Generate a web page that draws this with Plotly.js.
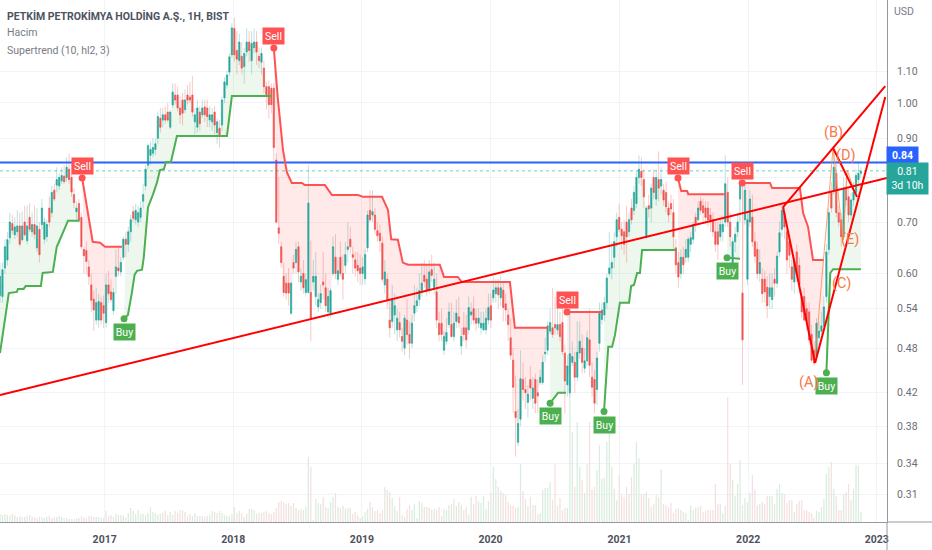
<!DOCTYPE html>
<html><head><meta charset="utf-8">
<script src="https://cdn.plot.ly/plotly-3.0.1.min.js"></script>
<style>html,body{margin:0;padding:0;background:#fff}#c{width:932px;height:550px}</style></head>
<body><div id="c"></div>
<script>
// weekly candles [open, high, low, close] (USD), one row per week
const bars2016=[[.562,.62,.55,.595],[.56,.62,.55,.607],[.61,.665,.60,.65],[.625,.68,.615,.664],[.668,.72,.655,.70],[.697,.715,.675,.683],[.674,.71,.665,.69],[.68,.725,.67,.692],[.692,.72,.65,.655],[.664,.722,.66,.692],[.70,.735,.67,.674],[.662,.735,.655,.692],[.71,.74,.68,.685],[.68,.72,.67,.695],[.695,.735,.665,.675],[.648,.73,.64,.692],[.685,.70,.62,.635],[.695,.75,.685,.73],[.665,.71,.655,.70],[.67,.705,.66,.695],[.73,.755,.69,.70],[.72,.78,.71,.765],[.77,.785,.745,.75],[.782,.825,.765,.795],[.78,.81,.77,.80],[.792,.825,.785,.805],[.803,.83,.785,.79],[.80,.85,.79,.825],[.82,.86,.785,.795],[.80,.835,.755,.766],[.76,.775,.73,.742],[.722,.745,.705,.73],[.74,.75,.70,.705],[.71,.72,.645,.65],[.645,.65,.60,.633],[.643,.66,.60,.622],[.612,.625,.58,.595],[.58,.60,.535,.554],[.556,.57,.505,.538],[.522,.575,.515,.55],[.522,.565,.51,.552],[.55,.56,.515,.522]];
const bars2017=[[.545,.562,.51,.533],[.518,.60,.51,.58],[.58,.605,.55,.565],[.568,.59,.55,.555],[.537,.575,.53,.567],[.595,.645,.565,.612],[.61,.65,.595,.605],[.603,.63,.595,.62],[.63,.67,.625,.665],[.665,.68,.63,.655],[.655,.69,.64,.68],[.68,.715,.66,.705],[.722,.735,.70,.708],[.705,.74,.695,.725],[.70,.735,.69,.72],[.71,.745,.70,.73],[.745,.785,.73,.76],[.78,.83,.77,.82],[.83,.885,.82,.88],[.855,.89,.83,.87],[.86,.90,.85,.875],[.87,.90,.855,.885],[.90,.975,.885,.96],[.955,.985,.915,.93],[.95,.985,.93,.965],[.965,.99,.94,.95],[.973,1.0,.945,.95],[.93,.98,.925,.973],[.994,1.06,.985,1.033],[1.024,1.06,.995,1.009],[1.024,1.05,.975,.985],[.985,1.02,.94,.965],[1.009,1.03,.935,.97],[.98,1.04,.97,1.009],[1.024,1.055,.995,1.009],[1.018,1.065,1.0,1.009],[1.024,1.085,.96,.973],[.945,.985,.91,.965],[.93,1.01,.915,.985],[.973,.99,.92,.94],[.965,1.01,.955,.985],[.988,1.01,.945,.965],[.985,1.01,.93,.96],[.95,.99,.93,.965],[.945,.985,.92,.965],[.973,.99,.91,.936],[.915,.955,.885,.945],[.927,.95,.875,.909],[.936,1.02,.92,1.009],[1.015,1.08,1.0,1.065],[1.055,1.10,1.045,1.087],[1.097,1.16,1.085,1.148],[1.155,1.27,1.145,1.252]];
const bars2018=[[1.25,1.29,1.13,1.155],[1.17,1.24,1.09,1.14],[1.135,1.23,1.12,1.20],[1.15,1.20,1.09,1.11],[1.115,1.18,1.06,1.16],[1.165,1.25,1.15,1.20],[1.20,1.24,1.13,1.17],[1.135,1.24,1.09,1.195],[1.18,1.25,1.16,1.20],[1.20,1.24,1.12,1.165],[1.15,1.18,1.11,1.135],[1.13,1.18,1.09,1.16],[1.11,1.135,1.03,1.05],[1.05,1.065,.98,1.025],[1.05,1.07,.955,.995],[1.045,1.06,.97,.995],[1.045,1.06,.84,.875],[.843,.86,.695,.70],[.688,.80,.655,.677],[.65,.66,.61,.62],[.595,.62,.56,.567],[.583,.60,.555,.566],[.583,.61,.545,.566],[.533,.585,.53,.583],[.62,.635,.60,.61],[.62,.66,.60,.645],[.65,.66,.585,.603],[.585,.61,.57,.595],[.60,.625,.565,.575],[.567,.60,.56,.589],[.567,.83,.565,.741],[.567,.662,.49,.525],[.585,.625,.57,.595],[.56,.64,.545,.595],[.543,.565,.535,.555],[.55,.58,.54,.565],[.585,.64,.555,.58],[.575,.60,.535,.545],[.535,.575,.525,.56],[.533,.575,.525,.57],[.60,.67,.595,.65],[.63,.675,.59,.60],[.59,.63,.58,.605],[.63,.66,.595,.60],[.60,.635,.555,.59],[.615,.66,.60,.635],[.645,.70,.62,.65],[.665,.69,.635,.65],[.635,.65,.60,.63],[.625,.64,.595,.61],[.615,.64,.585,.605],[.61,.635,.58,.60],[.60,.63,.58,.612]];
const bars2019=[[.591,.645,.58,.635],[.648,.725,.64,.715],[.725,.77,.70,.705],[.715,.77,.70,.722],[.715,.73,.675,.685],[.682,.70,.66,.672],[.677,.695,.64,.662],[.657,.67,.585,.59],[.58,.625,.565,.603],[.59,.60,.54,.555],[.522,.555,.495,.51],[.52,.58,.51,.555],[.53,.565,.50,.545],[.507,.54,.49,.525],[.518,.535,.495,.507],[.497,.51,.475,.49],[.48,.53,.47,.525],[.522,.555,.485,.50],[.50,.52,.465,.487],[.487,.53,.48,.517],[.533,.58,.52,.545],[.545,.575,.535,.553],[.555,.60,.545,.57],[.57,.62,.56,.583],[.597,.625,.575,.586],[.59,.615,.56,.571],[.571,.625,.565,.603],[.607,.635,.585,.597],[.575,.62,.565,.59],[.568,.60,.51,.522],[.517,.535,.49,.50],[.517,.54,.49,.50],[.477,.505,.47,.497],[.49,.525,.485,.503],[.515,.55,.51,.535],[.515,.55,.495,.497],[.497,.535,.49,.517],[.52,.555,.51,.533],[.527,.56,.51,.518],[.483,.51,.47,.497],[.51,.535,.49,.50],[.51,.53,.48,.492],[.507,.56,.50,.542],[.53,.55,.515,.535],[.54,.56,.515,.522],[.525,.54,.505,.517],[.517,.54,.51,.525],[.51,.535,.50,.517],[.507,.535,.505,.517],[.507,.54,.50,.525],[.522,.565,.515,.542],[.545,.565,.51,.522]];
const bars2020=[[.558,.595,.55,.571],[.565,.59,.55,.575],[.575,.59,.54,.563],[.558,.595,.545,.575],[.571,.585,.52,.542],[.548,.565,.52,.538],[.53,.54,.49,.515],[.495,.525,.463,.47],[.463,.48,.395,.427],[.397,.442,.347,.39],[.362,.40,.358,.383],[.388,.477,.38,.438],[.437,.46,.41,.424],[.424,.44,.40,.42],[.408,.43,.39,.418],[.437,.455,.41,.426],[.413,.44,.40,.426],[.437,.445,.395,.407],[.42,.437,.395,.416],[.433,.45,.43,.44],[.433,.47,.43,.46],[.472,.495,.46,.474],[.477,.52,.47,.513],[.505,.54,.50,.518],[.51,.575,.495,.50],[.515,.56,.50,.51],[.507,.55,.50,.515],[.515,.535,.49,.497],[.518,.55,.47,.475],[.473,.485,.395,.435],[.43,.47,.415,.455],[.42,.545,.415,.472],[.46,.49,.455,.468],[.46,.475,.42,.44],[.44,.52,.435,.474],[.473,.52,.465,.49],[.48,.50,.445,.46],[.452,.48,.445,.462],[.462,.505,.455,.495],[.492,.54,.44,.456],[.44,.46,.415,.427],[.437,.45,.395,.407],[.424,.475,.405,.466],[.487,.55,.475,.533],[.523,.55,.515,.538],[.53,.56,.52,.55],[.55,.60,.54,.592],[.60,.68,.595,.61],[.61,.66,.59,.62],[.63,.68,.61,.66],[.67,.72,.65,.705]];
const bars2021=[[.71,.74,.68,.685],[.685,.70,.645,.672],[.68,.705,.635,.655],[.70,.735,.62,.67],[.68,.72,.67,.705],[.73,.75,.695,.705],[.725,.78,.715,.765],[.74,.815,.73,.80],[.80,.855,.785,.82],[.815,.85,.78,.80],[.795,.82,.73,.755],[.67,.735,.665,.73],[.735,.76,.71,.728],[.73,.785,.70,.775],[.80,.82,.75,.765],[.75,.82,.735,.80],[.795,.865,.745,.775],[.78,.825,.76,.795],[.77,.785,.735,.748],[.765,.79,.72,.733],[.73,.745,.70,.715],[.74,.76,.715,.728],[.72,.75,.645,.67],[.648,.665,.60,.616],[.62,.64,.575,.594],[.60,.645,.59,.63],[.63,.65,.60,.616],[.63,.665,.62,.645],[.63,.67,.62,.665],[.655,.68,.64,.668],[.665,.70,.655,.695],[.71,.72,.68,.695],[.705,.745,.695,.73],[.745,.755,.715,.725],[.735,.75,.70,.72],[.73,.745,.695,.71],[.73,.745,.69,.705],[.715,.73,.68,.70],[.705,.72,.67,.68],[.68,.70,.64,.655],[.68,.70,.625,.655],[.67,.71,.66,.695],[.68,.71,.66,.695],[.70,.855,.69,.785],[.765,.80,.69,.70],[.70,.72,.65,.67],[.61,.67,.60,.66],[.66,.69,.64,.675],[.68,.72,.67,.70],[.75,.83,.70,.79],[.566,.78,.43,.492],[.705,.80,.695,.77],[.59,.72,.58,.705]];
const bars2022=[[.70,.77,.69,.75],[.71,.76,.65,.66],[.66,.68,.62,.632],[.645,.66,.59,.60],[.60,.645,.585,.62],[.59,.61,.55,.565],[.59,.605,.55,.568],[.576,.595,.525,.545],[.56,.60,.54,.575],[.555,.60,.54,.575],[.59,.61,.56,.583],[.583,.64,.575,.632],[.64,.70,.63,.678],[.685,.74,.67,.725],[.72,.74,.665,.69],[.68,.69,.60,.625],[.66,.67,.61,.634],[.612,.625,.57,.59],[.585,.63,.565,.622],[.64,.655,.585,.60],[.615,.63,.565,.58],[.56,.57,.525,.535],[.56,.575,.52,.522],[.54,.55,.505,.52],[.535,.55,.485,.492],[.50,.515,.46,.463],[.477,.49,.455,.459],[.47,.525,.465,.517],[.495,.52,.485,.505],[.505,.535,.50,.513],[.513,.56,.505,.543],[.56,.655,.55,.64],[.645,.73,.635,.72],[.765,.79,.72,.73],[.77,.87,.76,.825],[.81,.845,.71,.72],[.72,.735,.69,.70],[.705,.72,.65,.67],[.67,.80,.665,.775],[.775,.80,.735,.748],[.755,.775,.70,.715],[.715,.765,.705,.748],[.748,.79,.735,.765],[.765,.82,.755,.805],[.795,.84,.785,.81],[.81,.825,.80,.815]];
// weekly volume (millions)
const vol2016=[8,7,8,7,6,8,7,5,6,5,5,6,7,5,5,4,5,5,4,5,6,4,5,5,6,5,4,4,3,3,3,4,4,6,5,4,6,6,5,5,5,4];
const vol2017=[4,11,6,7,5,8,7,7,6,4,9,14,11,8,12,8,8,7,9,15,10,9,7,8,9,11,7,10,7,11,9,12,12,10,6,8,6,9,6,6,6,5,6,7,11,10,9,11,9,7,6,6,8];
const vol2018=[15,9,11,9,5,8,13,13,12,8,9,9,10,11,9,8,10,14,20,21,20,18,19,16,19,14,12,13,12,15,65,55,2,23,19,18,25,15,14,20,25,29,15,14,16,13,14,14,8,10,7,4,6];
const vol2019=[10,13,20,15,11,12,9,12,35,32,30,24,16,11,25,7,5,13,17,12,18,4,21,19,15,15,14,12,13,12,15,6,13,12,17,18,23,16,20,17,12,15,7,25,18,26,21,19,26,13,21,30];
const vol2020=[55,43,35,31,29,27,20,17,16,14,15,58,31,23,16,25,17,17,8,9,32,34,34,40,22,58,16,24,12,14,14,130,90,35,100,55,42,29,58,100,33,35,52,77,43,44,80,100,55,33,22];
const vol2021=[47,27,25,35,28,45,58,80,64,28,28,30,24,15,18,27,25,53,18,17,15,19,9,13,14,12,10,9,2,17,12,14,15,16,10,11,12,12,12,38,18,18,9,16,125,58,42,26,38,62,17,24,20];
const vol2022=[29,47,33,17,18,20,18,26,26,26,18,33,38,29,28,19,22,22,10,18,21,22,12,12,10,9,4,11,10,15,23,48,55,60,33,26,12,12,28,30,38,22,33,57,56,10];
// Supertrend (10, hl2, 3): week number and level of each leg
const upWeeks=[[0,1.2,3.6,6.9,7.3,9.7,10.5,16.6,17.4,21.5,22.3,23.1,24.3,25.5,27.6,32.4],[50.3,51.9,53.5,54.7,55.6,57.6,58.4,60,62,63.7,64.9,66.5,67.3,69.3,71.8,92,94,110.3],[223,226.3,229.5],[244.9,246.6,248.2,249.4,251.4,255.1,255.9,257.1,258.3,259.5,260.3,274.5],[294.8,300.1],[335,336.6,337.8,349.1]];
const upLevels=[[.473,.499,.566,.568,.573,.573,.578,.578,.601,.603,.625,.65,.664,.678,.703,.703],[.524,.53,.566,.598,.605,.607,.63,.732,.76,.787,.818,.82,.838,.838,.906,.906,1.021,1.021],[.407,.42,.42],[.397,.482,.482,.499,.55,.55,.578,.58,.601,.601,.644,.644],[.629,.627],[.446,.601,.608,.608]];
const downWeeks=[[33.3,35.7,37.7,40.6,42.6,49.5],[111.1,112.7,114.8,116.4,118.4,122.5,123.7,131.8,134.6,145.2,147.2,154.9,157.3,158.6,161.4,163.4,165.5,178.4,180,185.7,187.3,206.8,208.8,222.2],[229.9,244.5],[274.9,276.2,278.6,279,294.4],[300.9,312.2,313,324.4,325.6,327.7,329.7,334.1]];
const downLevels=[[.799,.72,.66,.658,.65,.65],[1.179,1.018,.869,.813,.787,.787,.782,.782,.759,.759,.755,.755,.726,.665,.664,.62,.616,.616,.594,.594,.585,.585,.51,.51],[.535,.535],[.799,.768,.768,.761,.761],[.787,.787,.775,.775,.719,.69,.625,.625]];
// signals
const sellWeeks=[33.3,111.1,229.9,274.9,300.9];
const sellLevels=[.799,1.179,.535,.799,.787];
const buyWeeks=[50.3,223,244.9,294.8,335];
const buyLevels=[.524,.407,.397,.629,.446];
// hand-drawn lines
const drawnLines=[
 {w:[0,359.7],p:[.417,.799]},
 {w:[317.5,358.9],p:[.732,1.052]},
 {w:[330.5,358.9],p:[.459,1.018]},
 {w:[317.5,330.5],p:[.732,.459]},
 {w:[337.8,347.5],p:[.874,.755]}
];
const waveWeeks=[330.5,337.8,341.9,343.5,347.1];
const waveLevels=[.467,.874,.664,.818,.759];
const waveLabels=['(A)','(B)','(C)','(D)','(E)'];
const waveLabelWeeks=[327.6,337.8,341,343,344.5];
const waveLabelLevels=[.433,.915,.583,.854,.665];
const resistance=.837, lastClose=.816, axisEndWeek=359.7;
const yTicks=[1.10,1.00,.90,.80,.70,.60,.54,.48,.42,.38,.34,.31];
const yTickLabels=['1.10','1.00','0.90','','0.70','0.60','0.54','0.48','0.42','0.38','0.34','0.31'];
const yearTicks=['2017','2018','2019','2020','2021','2022','2023'];
const yMin=.2852,yMax=1.361;

const GREEN='#4caf50',RED='#ff5252',UP='#26a69a',DOWN='#ef5350';
const FONT='Roboto, "Noto Sans", sans-serif';
const t0=Date.UTC(2016,2,10);
const wk=w=>new Date(t0+w*7*864e5).toISOString().slice(0,10);
const bars=[...bars2016,...bars2017,...bars2018,...bars2019,...bars2020,...bars2021,...bars2022];
const vols=[...vol2016,...vol2017,...vol2018,...vol2019,...vol2020,...vol2021,...vol2022];
const dates=bars.map((b,i)=>wk(i));
const o=bars.map(b=>b[0]),h=bars.map(b=>b[1]),l=bars.map(b=>b[2]),c=bars.map(b=>b[3]);
const bodyHi=bars.map(b=>Math.max(b[0],b[3])),bodyLo=bars.map(b=>Math.min(b[0],b[3]));
const traces=[];

// fills of the Supertrend zone, on the base price axis
function zone(ws,ls,color){
  const idx=[];bars.forEach((b,i)=>{if(i>=ws[0]&&i<=ws[ws.length-1])idx.push(i)});
  traces.push({type:'scatter',mode:'lines',x:idx.map(i=>dates[i]),y:idx.map(i=>(o[i]+c[i])/2),line:{width:0},hoverinfo:'skip',xaxis:'x',yaxis:'y'});
  traces.push({type:'scatter',mode:'lines',x:ws.map(wk),y:ls,line:{width:0},fill:'tonexty',fillcolor:color,hoverinfo:'skip',xaxis:'x',yaxis:'y'});
}
upWeeks.forEach((w,i)=>zone(w,upLevels[i],'rgba(76,175,80,0.10)'));
downWeeks.forEach((w,i)=>zone(w,downLevels[i],'rgba(255,82,82,0.13)'));

// volume
traces.push({type:'bar',x:dates,y:vols,xaxis:'x',yaxis:'y2',hoverinfo:'skip',
  marker:{color:bars.map(b=>b[3]>=b[0]?'#d9ecdd':'#f5dfdf',),line:{width:0}}});

// wicks (pale) then bodies
traces.push({type:'candlestick',x:dates,open:o,high:h,low:l,close:c,xaxis:'x',yaxis:'y3',hoverinfo:'skip',
  increasing:{line:{color:'rgba(38,166,154,0.4)',width:0.8},fillcolor:'rgba(0,0,0,0)'},
  decreasing:{line:{color:'rgba(239,83,80,0.4)',width:0.8},fillcolor:'rgba(0,0,0,0)'}});
traces.push({type:'candlestick',x:dates,open:o,high:bodyHi,low:bodyLo,close:c,xaxis:'x',yaxis:'y3',hoverinfo:'skip',
  increasing:{line:{color:UP,width:0.5},fillcolor:UP},
  decreasing:{line:{color:DOWN,width:0.5},fillcolor:DOWN}});

// horizontal levels
traces.push({type:'scatter',mode:'lines',x:[wk(0),wk(axisEndWeek)],y:[lastClose,lastClose],line:{color:'rgba(38,166,154,0.6)',width:1,dash:'dot'},xaxis:'x',yaxis:'y3',hoverinfo:'skip'});
traces.push({type:'scatter',mode:'lines',x:[wk(0),wk(axisEndWeek)],y:[resistance,resistance],line:{color:'#2962ff',width:2},xaxis:'x',yaxis:'y3',hoverinfo:'skip'});

// supertrend lines
upWeeks.forEach((w,i)=>traces.push({type:'scatter',mode:'lines',x:w.map(wk),y:upLevels[i],line:{color:GREEN,width:2},xaxis:'x',yaxis:'y3',hoverinfo:'skip'}));
downWeeks.forEach((w,i)=>traces.push({type:'scatter',mode:'lines',x:w.map(wk),y:downLevels[i],line:{color:RED,width:2},xaxis:'x',yaxis:'y3',hoverinfo:'skip'}));

// wave + drawings
traces.push({type:'scatter',mode:'lines',x:waveWeeks.map(wk),y:waveLevels,line:{color:'rgba(255,138,80,0.8)',width:1},xaxis:'x',yaxis:'y3',hoverinfo:'skip'});
drawnLines.forEach(d=>traces.push({type:'scatter',mode:'lines',x:d.w.map(wk),y:d.p,line:{color:'#f00',width:2},xaxis:'x',yaxis:'y3',hoverinfo:'skip'}));

// signal dots
traces.push({type:'scatter',mode:'markers',x:sellWeeks.map(wk),y:sellLevels,marker:{color:RED,size:7},xaxis:'x',yaxis:'y3',hoverinfo:'skip'});
traces.push({type:'scatter',mode:'markers',x:buyWeeks.map(wk),y:buyLevels,marker:{color:GREEN,size:7},xaxis:'x',yaxis:'y3',hoverinfo:'skip'});

const ann=[];
const sig=(txt,w,p,col,shift)=>ann.push({text:txt,x:wk(w),y:Math.log10(p),xref:'x',yref:'y',xanchor:'center',yanchor:'middle',yshift:shift,showarrow:false,bgcolor:col,width:21,height:16,borderpad:0,font:{family:FONT,size:10.5,color:'#fff'}});
sellWeeks.forEach((w,i)=>sig('Sell',w,sellLevels[i],RED,12));
buyWeeks.forEach((w,i)=>sig('Buy',w,buyLevels[i],GREEN,-13));
waveLabels.forEach((t,i)=>ann.push({text:t,x:wk(waveLabelWeeks[i]),y:Math.log10(waveLabelLevels[i]),xref:'x',yref:'y',xanchor:'center',yanchor:'middle',showarrow:false,font:{family:FONT,size:14.5,color:'#f7794a'}}));
const paperTxt=(text,px,py,size,color,extra)=>ann.push(Object.assign({text,x:px/887,y:1-py/522,xref:'paper',yref:'paper',xanchor:'left',yanchor:'middle',showarrow:false,font:{family:FONT,size,color}},extra||{}));
paperTxt('PETKİM PETROKİMYA HOLDİNG A.Ş., 1H, BIST',5,16,10.5,'#4c525e',{font:{family:FONT,size:10.5,color:'#4c525e',weight:'bold'}});
paperTxt('Hacim',5,33,10.5,'#787b86');
paperTxt('Supertrend (10, hl2, 3)',5,50,10.5,'#787b86');
paperTxt('USD',892,12,10.5,'#787b86');
ann.push({text:'0.84',x:902.5/887,y:1-155/522,xref:'paper',yref:'paper',xanchor:'center',yanchor:'middle',showarrow:false,bgcolor:'#2962ff',width:31,height:16,borderpad:0,font:{family:FONT,size:10.5,color:'#fff',weight:'bold'}});
ann.push({text:'0.81<br>3d 10h',x:907.5/887,y:1-178.5/522,xref:'paper',yref:'paper',xanchor:'center',yanchor:'middle',showarrow:false,align:'center',bgcolor:'#26a69a',width:41,height:31,borderpad:0,font:{family:FONT,size:10.5,color:'#fff'}});

const range=[Math.log10(yMin),Math.log10(yMax)];
const layout={
  width:932,height:550,margin:{l:0,r:45,t:0,b:28,pad:0},paper_bgcolor:'#fff',plot_bgcolor:'#fff',
  showlegend:false,bargap:.5,annotations:ann,
  font:{family:FONT,color:'#787b86'},
  xaxis:{type:'date',range:[wk(0),wk(axisEndWeek)],rangeslider:{visible:false},
    tickmode:'array',tickvals:yearTicks.map(y=>y+'-01-01'),ticktext:yearTicks,
    tickfont:{family:FONT,size:10.5,color:'#4c525e',weight:'bold'},ticks:'outside',ticklen:7,tickcolor:'rgba(0,0,0,0)',
    showgrid:true,gridcolor:'#f3f4f8',showline:true,linecolor:'#9598a1',linewidth:1,zeroline:false},
  yaxis:{type:'log',side:'right',range,tickmode:'array',tickvals:yTicks,ticktext:yTickLabels,
    tickfont:{family:FONT,size:10.5,color:'#6a6d78'},ticks:'outside',ticklen:7,tickcolor:'rgba(0,0,0,0)',
    showgrid:true,gridcolor:'#f0f3fa',showline:true,linecolor:'#9598a1',linewidth:1,zeroline:false},
  yaxis2:{overlaying:'y',range:[0,522],visible:false,fixedrange:true},
  yaxis3:{overlaying:'y',type:'log',range,visible:false},
  shapes:[
    {type:'line',xref:'paper',yref:'paper',x0:1,x1:932/887,y0:0,y1:0,line:{color:'#9598a1',width:1}},
    {type:'line',xref:'paper',yref:'paper',x0:1,x1:1,y0:0,y1:-28/522,line:{color:'#9598a1',width:1}}
  ]
};
Plotly.newPlot('c',traces,layout,{displayModeBar:false,staticPlot:true});
</script></body></html>
